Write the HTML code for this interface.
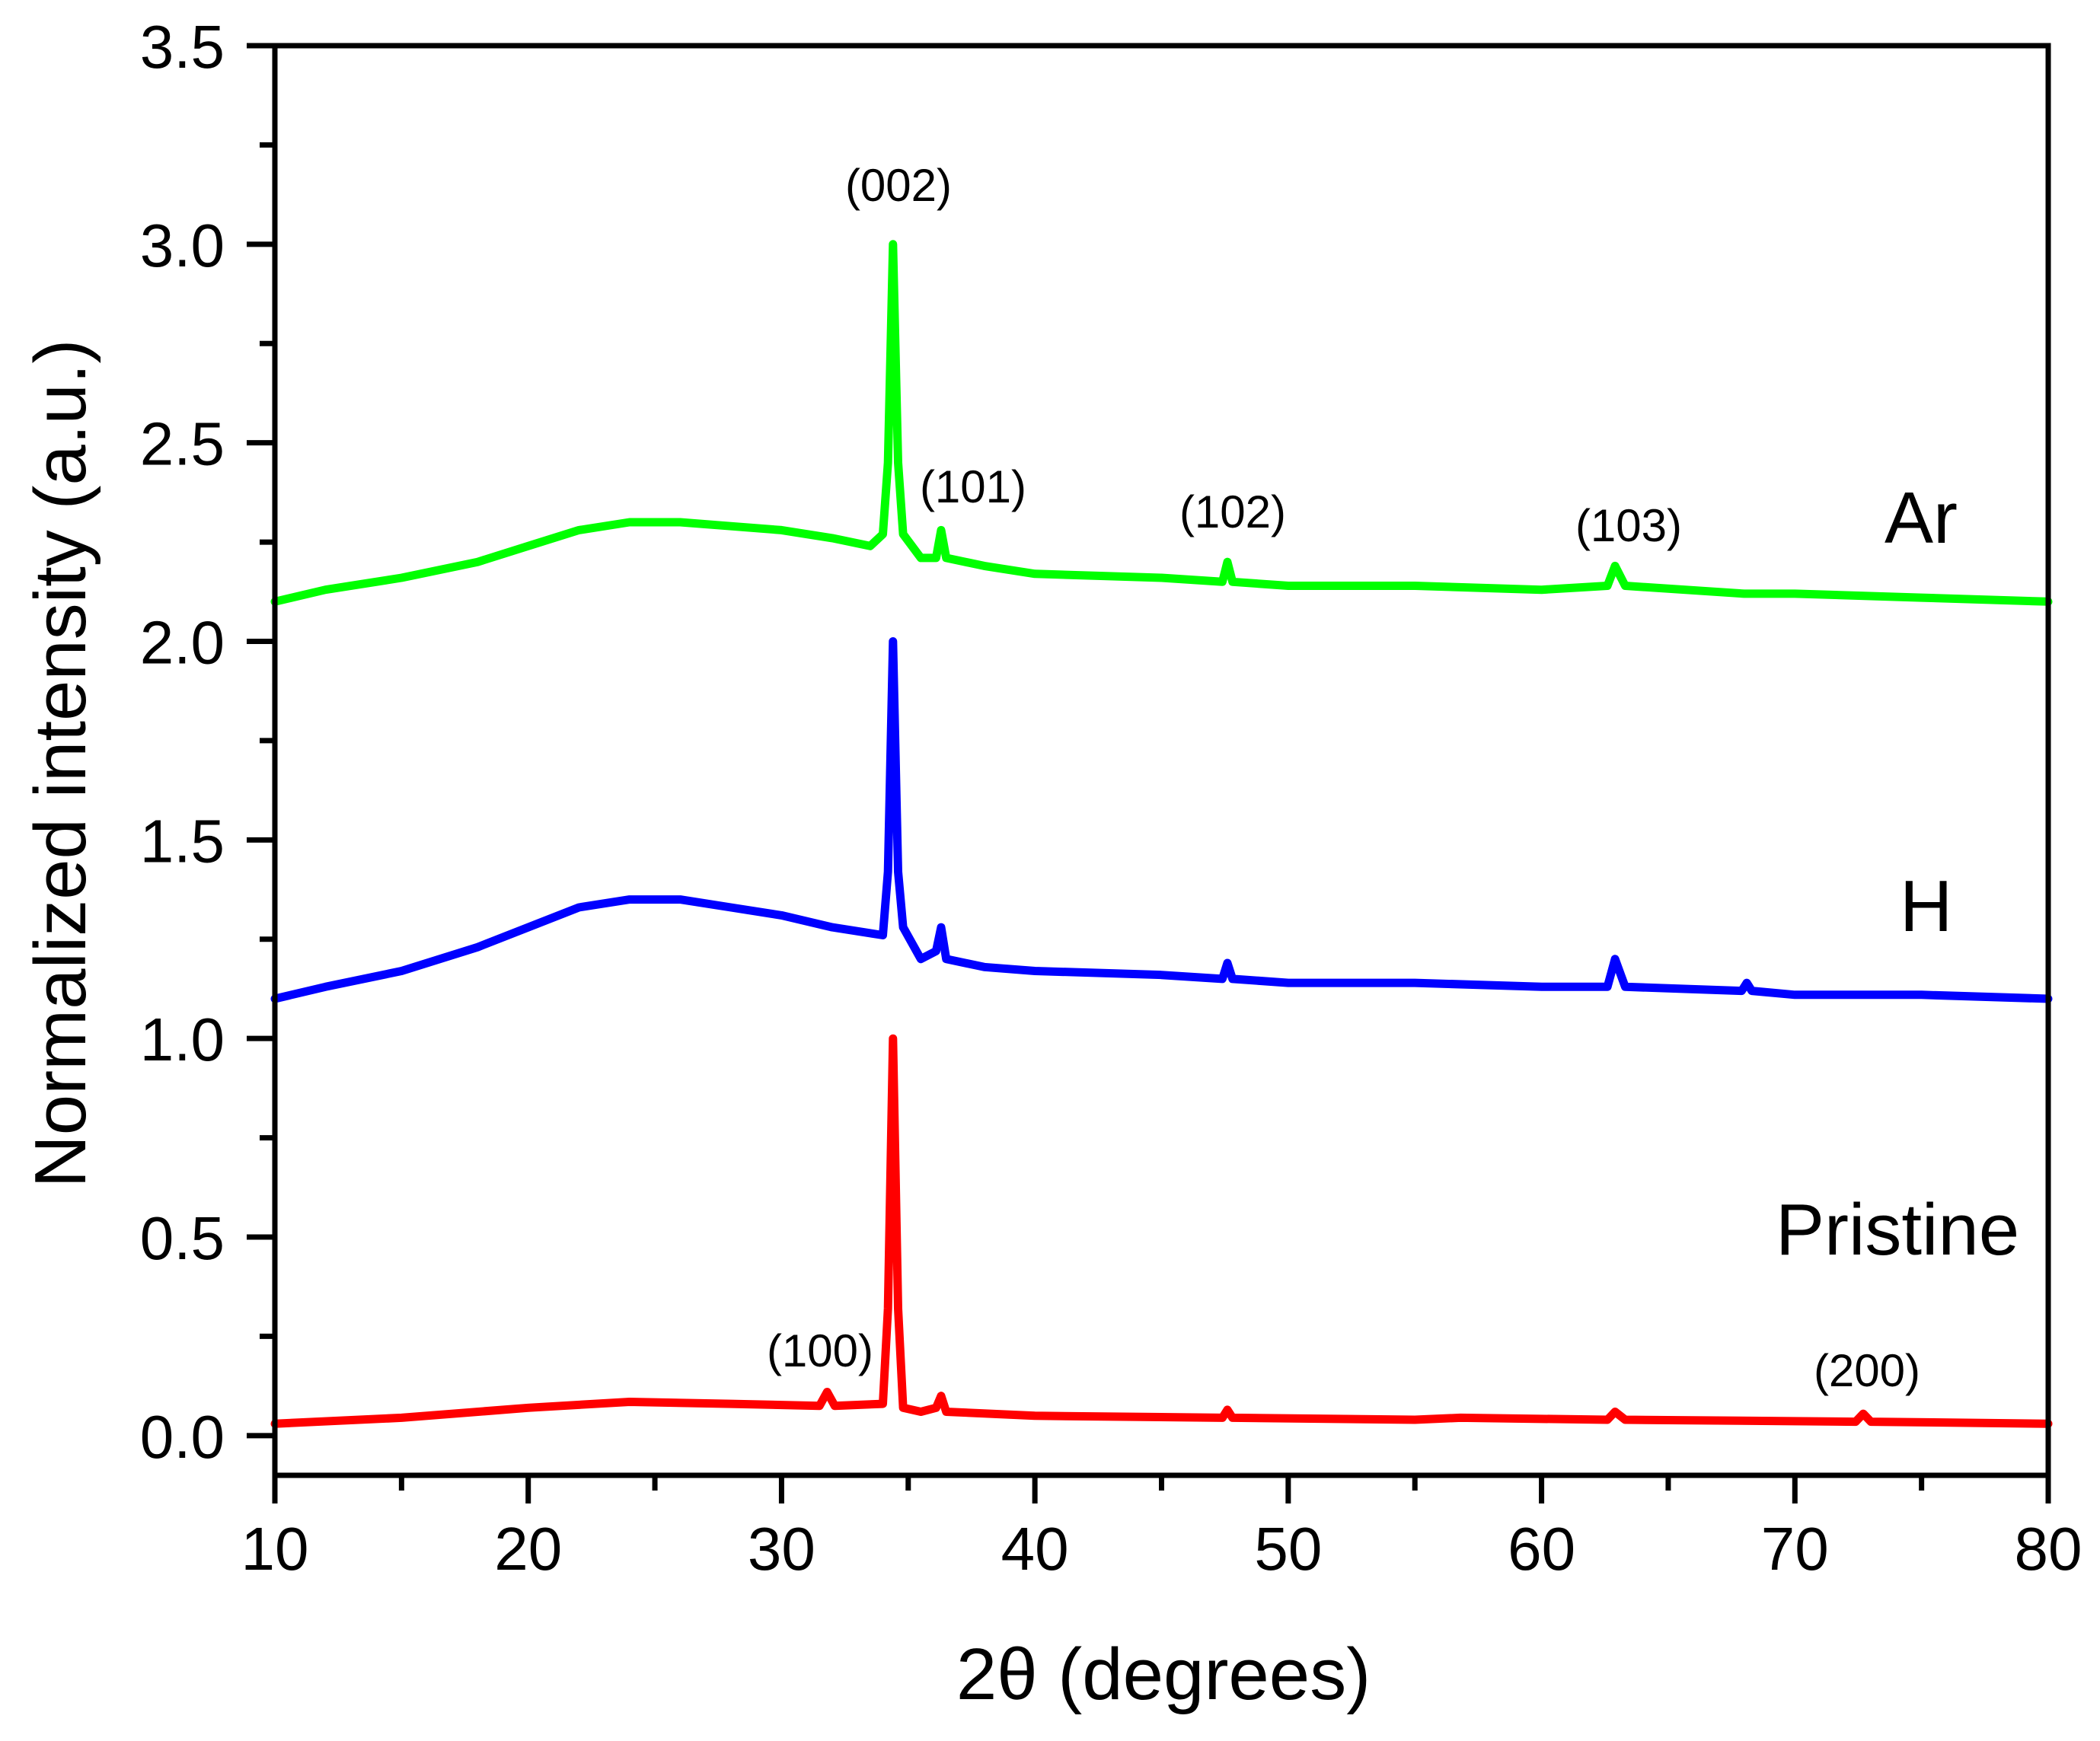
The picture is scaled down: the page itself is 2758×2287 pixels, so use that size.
<!DOCTYPE html>
<html><head><meta charset="utf-8"><style>
html,body{margin:0;padding:0;background:#fff;}
svg{display:block;font-family:"Liberation Sans",Arial,sans-serif;}
</style></head><body>
<svg id="chart" width="2758" height="2287" viewBox="0 0 2758 2287" xmlns="http://www.w3.org/2000/svg">
<rect width="2758" height="2287" fill="#fff"/>
<g id="series"></g>
<g id="axes"></g>
<text x="1528" y="2232" font-size="96" text-anchor="middle">2θ (degrees)</text>
<text transform="translate(112,1003) rotate(-90)" font-size="96" text-anchor="middle">Normalized intensity (a.u.)</text>
<text x="2475" y="713" font-size="96">Ar</text>
<text x="2495" y="1223" font-size="96">H</text>
<text x="2332" y="1648" font-size="96">Pristine</text>
<text x="1180" y="264" font-size="60" text-anchor="middle">(002)</text>
<text x="1278" y="660" font-size="60" text-anchor="middle">(101)</text>
<text x="1619" y="693" font-size="60" text-anchor="middle">(102)</text>
<text x="2139" y="711" font-size="60" text-anchor="middle">(103)</text>
<text x="1077" y="1795" font-size="60" text-anchor="middle">(100)</text>
<text x="2452" y="1821" font-size="60" text-anchor="middle">(200)</text>
</svg>
<script>
const xTicks=[10,20,30,40,50,60,70,80];
const yTicks=[0.0,0.5,1.0,1.5,2.0,2.5,3.0,3.5];
const yTickLabels=["0.0","0.5","1.0","1.5","2.0","2.5","3.0","3.5"];
const arX=[10,12,15,18,20,22,24,26,28,30,32,33.5,34,34.2,34.4,34.6,34.8,35.5,36.1,36.3,36.5,38,40,45,47.4,47.6,47.8,50,55,60,62.6,62.9,63.3,68,70,75,80];
const arY=[2.10,2.13,2.16,2.20,2.24,2.28,2.30,2.30,2.29,2.28,2.26,2.24,2.27,2.45,3.0,2.45,2.27,2.21,2.21,2.28,2.21,2.19,2.17,2.16,2.15,2.20,2.15,2.14,2.14,2.13,2.14,2.19,2.14,2.12,2.12,2.11,2.10];
const hX=[10,12,15,18,20,22,24,26,28,30,32,34,34.2,34.4,34.6,34.8,35.5,36.1,36.3,36.5,38,40,45,47.4,47.6,47.8,50,55,60,62.6,62.9,63.3,67.9,68.1,68.3,70,75,80];
const hY=[1.10,1.13,1.17,1.23,1.28,1.33,1.35,1.35,1.33,1.31,1.28,1.26,1.42,2.0,1.42,1.28,1.20,1.22,1.28,1.20,1.18,1.17,1.16,1.15,1.19,1.15,1.14,1.14,1.13,1.13,1.20,1.13,1.12,1.14,1.12,1.11,1.11,1.10];
const pX=[10,15,20,24,28,31.5,31.8,32.1,34,34.2,34.4,34.6,34.8,35.5,36.1,36.3,36.5,40,47.4,47.6,47.8,55,56.8,62.6,62.9,63.3,72.4,72.7,73,80];
const pY=[0.03,0.045,0.07,0.085,0.08,0.075,0.11,0.075,0.08,0.32,1.0,0.32,0.07,0.06,0.07,0.10,0.06,0.05,0.045,0.065,0.045,0.04,0.045,0.04,0.06,0.04,0.035,0.055,0.035,0.03];
const L=361,R=2690,T=60,B=1938,xmin=10,xmax=80,ymin=-0.1,ymax=3.5;
const sx=v=>L+(v-xmin)/(xmax-xmin)*(R-L);
const sy=v=>B-(v-ymin)/(ymax-ymin)*(B-T);
const NS="http://www.w3.org/2000/svg";
const sg=document.getElementById('series'),ag=document.getElementById('axes');
function mk(t,p,a){const e=document.createElementNS(NS,t);for(const k in a)e.setAttribute(k,a[k]);p.appendChild(e);return e;}
function series(xs,ys,color,name){
  const d=xs.map((x,i)=>(i?'L':'M')+sx(x).toFixed(1)+','+sy(ys[i]).toFixed(1)).join('');
  const p=mk('path',sg,{d:d,fill:'none',stroke:color,'stroke-width':11,'stroke-linejoin':'round','stroke-linecap':'round'});
  
  
}
series(pX,pY,'#ff0000','series-pristine');
series(hX,hY,'#0000ff','series-h');
series(arX,arY,'#00ff00','series-ar');
const frame=mk('rect',ag,{x:L,y:T,width:R-L,height:B-T,fill:'none',stroke:'#000','stroke-width':7});


xTicks.forEach((v,i)=>{
  const t=mk('line',ag,{x1:sx(v),x2:sx(v),y1:B,y2:B+37,stroke:'#000','stroke-width':7});
  
  
  const lb=mk('text',ag,{x:sx(v),y:2062,'font-size':80,'text-anchor':'middle'});
  lb.textContent=v;
  
  
  if(i<xTicks.length-1){
    const m=mk('line',ag,{x1:sx(v+5),x2:sx(v+5),y1:B,y2:B+20,stroke:'#000','stroke-width':7});
    
    
  }
});
yTicks.forEach((v,i)=>{
  const t=mk('line',ag,{x1:L-37,x2:L,y1:sy(v),y2:sy(v),stroke:'#000','stroke-width':7});
  
  
  const lb=mk('text',ag,{x:295,y:sy(v)+29,'font-size':80,'text-anchor':'end'});
  lb.textContent=yTickLabels[i];
  
  
  if(i<yTicks.length-1){
    const m=mk('line',ag,{x1:L-20,x2:L,y1:sy(v+0.25),y2:sy(v+0.25),stroke:'#000','stroke-width':7});
    
    
  }
});
</script>
</body></html>
